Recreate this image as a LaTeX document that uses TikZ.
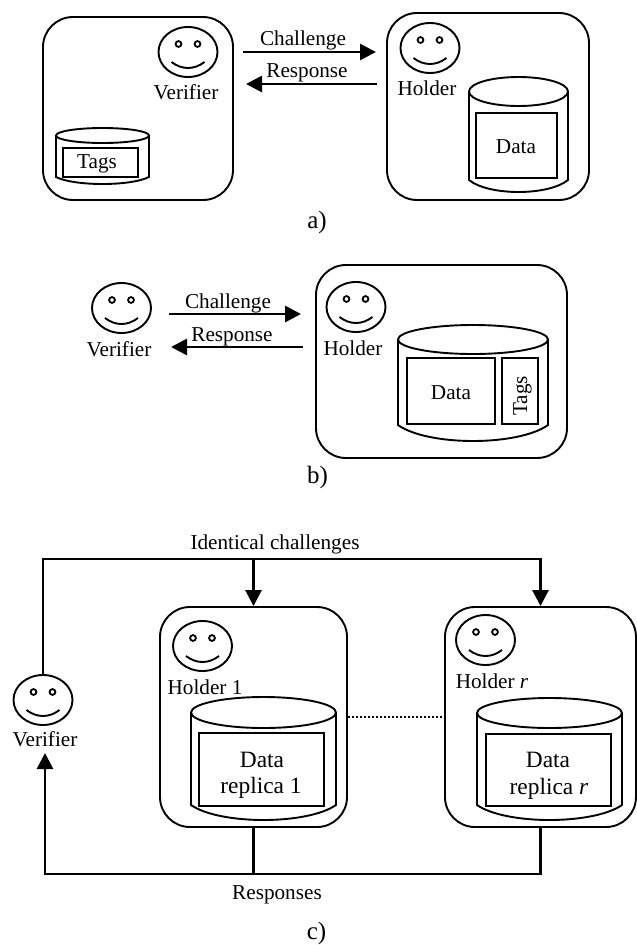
\documentclass[tikz,border=0pt]{standalone}
\usepackage{fontspec}
\setmainfont{Liberation Serif}
\usetikzlibrary{arrows.meta,shapes.geometric,calc}
\tikzset{
  lbl/.style={inner sep=0pt,font=\fontsize{21.2}{23}\selectfont,text height=14pt,text depth=4pt},
  biglbl/.style={inner sep=0pt,font=\fontsize{23.4}{25}\selectfont,text height=14pt,text depth=4pt},
  caplbl/.style={inner sep=0pt,font=\fontsize{25}{27}\selectfont,text height=18pt,text depth=6pt},
  outline/.style={draw=black,line width=1.9pt},
  roundbox/.style={outline,rectangle,rounded corners=30pt,inner sep=0pt},
  storebox/.style={draw=black,line width=2.2pt,rectangle,inner sep=0pt},
  facebody/.style={outline,ellipse,minimum width=59pt,minimum height=50pt,inner sep=0pt},
  conn/.style={draw=black,line width=2.9pt},
  tipped/.style={conn,-{Triangle[length=16pt,width=16pt]}},
  dotline/.style={draw=black,line width=2.4pt,dash pattern=on 2.2pt off 1.8pt}
}
% name, x1, y1, x2, y2
\newcommand{\mybox}[6][roundbox]{%
  \node[#1,minimum width={(#5)-(#3)},minimum height={(#6)-(#4)}] (#2) at ({((#3)+(#5))/2},{((#4)+(#6))/2}) {};}
\newcommand{\myface}[3]{%
  \node[facebody] (#1) at (#2,#3) {};
  \draw[line width=1.8pt] ({#2-9.5},{#3-8}) circle[radius=2.9];
  \draw[line width=1.8pt] ({#2+9.5},{#3-8}) circle[radius=2.9];
  \draw[outline] ({#2-16.5},{#3+10}) .. controls ({#2-6},{#3+18}) and ({#2+6},{#3+18}) .. ({#2+16.5},{#3+10});}
% x1,x2,top,ellipse bottom,side end,bottom
\newcommand{\mycyl}[6]{%
  \draw[outline] ({(#1+#2)/2},{(#3+#4)/2}) ellipse[x radius={(#2-#1)/2},y radius={(#4-#3)/2}];
  \draw[outline] (#1,{(#3+#4)/2}) -- (#1,#5) .. controls ({#1+0.2*(#2-#1)},{#5+(#6-#5)/0.75}) and ({#2-0.2*(#2-#1)},{#5+(#6-#5)/0.75}) .. (#2,#5) -- (#2,{(#3+#4)/2});}
\begin{document}
\begin{tikzpicture}[x=1pt,y=-1pt]
\useasboundingbox (0,0) rectangle (637,945);
% ---- a)
\mybox{averbox}{43}{17}{233}{200}
\mybox{aholdbox}{387}{13}{589}{200}
\myface{averface}{188}{52}
\node[lbl] (averlab) at (186,94) {Verifier};
\mycyl{56}{149}{128}{143}{177}{184}
\mybox[storebox]{atagrect}{63}{148}{138}{177}
\node[lbl] (atags) at (97,163) {Tags};
\myface{aholdface}{430}{48}
\node[lbl] (aholdlab) at (427,90) {Holder};
\mycyl{469}{568}{77}{106}{180}{192}
\mybox[storebox]{adatarect}{476}{113}{557}{178}
\node[lbl] (adata) at (516,148) {Data};
\coordinate (ac1) at (243,52); \coordinate (ac2) at (376,52);
\coordinate (ar1) at (377,84); \coordinate (ar2) at (246,84);
\draw[tipped] (ac1) -- (ac2);
\draw[tipped] (ar1) -- (ar2);
\node[lbl] (achal) at (303,40) {Challenge};
\node[lbl] (aresp) at (307,72) {Response};
\node[caplbl] (acap) at (317,222) {a)};
% ---- b)
\myface{bverface}{121.5}{308}
\node[lbl] (bverlab) at (119,351) {Verifier};
\coordinate (bc1) at (169,314); \coordinate (bc2) at (301,314);
\coordinate (br1) at (303,347); \coordinate (br2) at (171,347);
\draw[tipped] (bc1) -- (bc2);
\draw[tipped] (br1) -- (br2);
\node[lbl] (bchal) at (228,303) {Challenge};
\node[lbl] (bresp) at (232,336) {Response};
\mybox{bholdbox}{316}{265}{567}{458}
\myface{bholdface}{356}{307}
\node[lbl] (bholdlab) at (353,350) {Holder};
\mycyl{398}{548}{325}{354}{425}{441}
\mybox[storebox]{bdatarect}{407}{358}{495}{424}
\mybox[storebox]{btagrect}{502}{358}{538}{424}
\node[lbl] (bdata) at (451,394) {Data};
\node[lbl,rotate=90] (btags) at (522,396) {Tags};
\node[caplbl] (bcap) at (317.5,477) {b)};
% ---- c)
\myface{cverface}{43}{700}
\node[lbl] (cverlab) at (45,741) {Verifier};
\mybox{choldA}{160}{607}{347}{827}
\mybox{choldR}{445}{607}{636}{827}
\myface{cfaceA}{202.5}{646}
\node[lbl] (clabA) at (205,689) {Holder 1};
\mycyl{191}{336}{697}{728}{805}{820}
\mybox[storebox]{cdataA}{199}{733}{324}{806}
\node[biglbl] (ctextA) at (262,762) {Data};
\node[biglbl] (ctextAb) at (261,788) {replica 1};
\myface{cfaceR}{485.5}{640}
\node[lbl] (clabR) at (492,683) {Holder \textit{r}};
\mycyl{477}{622}{698}{728}{805}{820}
\mybox[storebox]{cdataR}{486}{734}{611}{806}
\node[biglbl] (ctextR) at (548,762) {Data};
\node[biglbl] (ctextRb) at (549,789) {replica \textit{r}};
\draw[dotline] (choldA.east |- 0,717) -- (choldR.west |- 0,717);
\coordinate (ctop) at (289,559);
\coordinate (cbot) at (277,874);
\coordinate (cvertip) at (45,753);
\draw[conn] (cverface.north) |- (ctop);
\draw[tipped] (ctop) -| (choldA.north);
\draw[tipped] (ctop) -| (choldR.north);
\draw[conn] (choldA.south) |- (cbot);
\draw[conn] (choldR.south) |- (cbot);
\draw[tipped] (cbot) -| (cvertip);
\node[lbl] (cchal) at (275,544) {Identical challenges};
\node[lbl] (cresp) at (277,894) {Responses};
\node[caplbl] (ccap) at (316.5,933) {c)};
\end{tikzpicture}
\end{document}
